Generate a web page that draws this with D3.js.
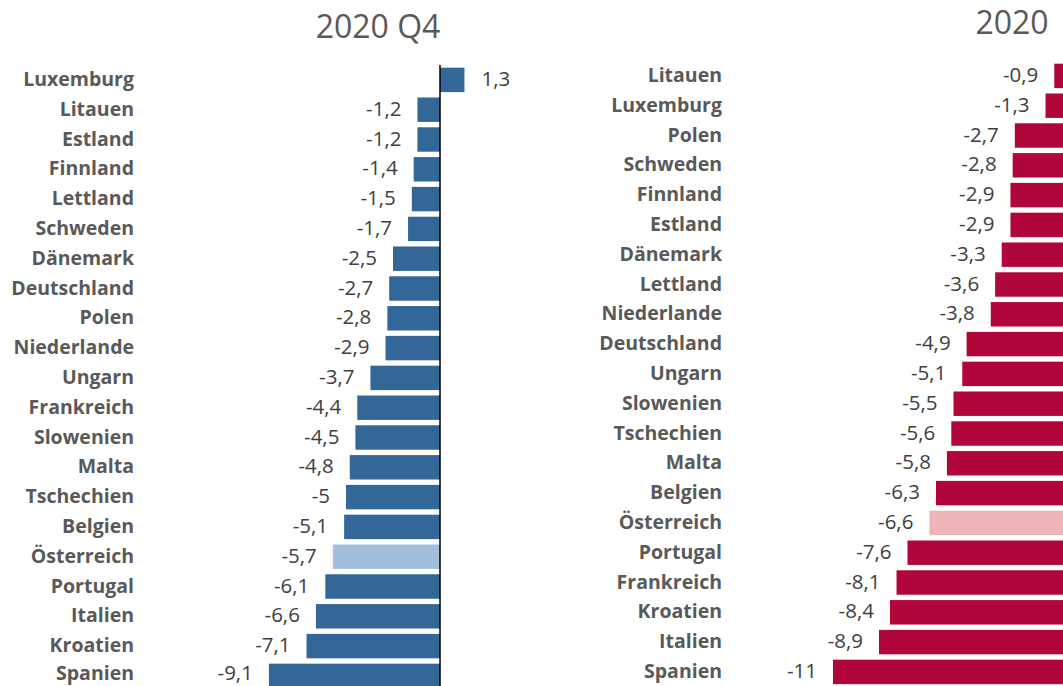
<!DOCTYPE html>
<html>
<head>
<meta charset="utf-8">
<script src="https://cdn.jsdelivr.net/npm/d3@7"></script>
<style>
  body { margin: 0; background: #fff; }
  svg { display: block; }
</style>
</head>
<body>
<svg></svg>
<script>
// Q4 2020 values (left) and full year 2020 (right)
let leftCats = ['Luxemburg', 'Litauen', 'Estland', 'Finnland', 'Lettland', 'Schweden', 'Dänemark',
  'Deutschland', 'Polen', 'Niederlande', 'Ungarn', 'Frankreich', 'Slowenien', 'Malta',
  'Tschechien', 'Belgien', 'Österreich', 'Portugal', 'Italien', 'Kroatien', 'Spanien']
let leftVals = [1.3, -1.2, -1.2, -1.4, -1.5, -1.7, -2.5, -2.7, -2.8, -2.9, -3.7, -4.4, -4.5, -4.8,
  -5, -5.1, -5.7, -6.1, -6.6, -7.1, -9.1]

let rightCats = ['Litauen', 'Luxemburg', 'Polen', 'Schweden', 'Finnland', 'Estland', 'Dänemark',
  'Lettland', 'Niederlande', 'Deutschland', 'Ungarn', 'Slowenien', 'Tschechien', 'Malta',
  'Belgien', 'Österreich', 'Portugal', 'Frankreich', 'Kroatien', 'Italien', 'Spanien']
let rightVals = [-0.9, -1.3, -2.7, -2.8, -2.9, -2.9, -3.3, -3.6, -3.8, -4.9, -5.1, -5.5, -5.6, -5.8,
  -6.3, -6.6, -7.6, -8.1, -8.4, -8.9, -11]

let titles = ['2020 Q4', '2020']

let svg = d3.select('svg').attr('width', 1063).attr('height', 686)

let fmt = d3.formatLocale({decimal: ',', thousands: '.', grouping: [3], currency: ['', '€'], minus: '-'})
  .format('.1~f')

function panel(cats, vals, opt) {
  let x = d3.scaleLinear().domain(opt.domain).range(opt.range)
  let y = d3.scaleBand().domain(cats).range(opt.yRange)
    .paddingInner(0.18).paddingOuter(0.09)
  let data = cats.map((c, i) => ({c: c, v: vals[i]}))
  let g = svg.append('g')
  // text baseline, kept inside the picture so descenders are not cut
  let ty = d => Math.min(y(d.c) + y.bandwidth() / 2 + 6, 680)

  g.selectAll('rect')
    .data(data)
    .enter().append('rect')
    .attr('x', d => x(Math.min(0, d.v)))
    .attr('y', d => y(d.c))
    .attr('width', d => Math.abs(x(d.v) - x(0)))
    .attr('height', y.bandwidth())
    .attr('fill', d => d.c == 'Österreich' ? opt.light : opt.color)

  // value labels outside the bar end
  g.selectAll('text.val')
    .data(data)
    .enter().append('text')
    .attr('class', 'val')
    .attr('x', d => d.v < 0 ? x(d.v) - 16 : x(d.v) + 17)
    .attr('y', ty)
    .attr('text-anchor', d => d.v < 0 ? 'end' : 'start')
    .attr('font-family', 'Open Sans')
    .attr('font-size', 20.5)
    .attr('fill', '#404040')
    .text(d => fmt(d.v))

  // category names
  g.selectAll('text.cat')
    .data(data)
    .enter().append('text')
    .attr('class', 'cat')
    .attr('x', opt.labelX)
    .attr('y', ty)
    .attr('text-anchor', 'end')
    .attr('font-family', 'Open Sans')
    .attr('font-weight', 'bold')
    .attr('font-size', 19.5)
    .attr('fill', '#595959')
    .text(d => d.c)

  g.append('text')
    .attr('x', opt.titleX)
    .attr('y', opt.titleY)
    .attr('text-anchor', 'middle')
    .attr('font-family', 'Open Sans')
    .attr('font-size', 32)
    .attr('fill', '#595959')
    .text(opt.title)

  if (opt.axis) {
    g.append('line')
      .attr('x1', x(0)).attr('x2', x(0))
      .attr('y1', opt.yRange[0]).attr('y2', 686)
      .attr('stroke', 'black')
      .attr('stroke-width', 1.5)
  }
}

panel(leftCats, leftVals, {
  domain: [-10, 2], range: [252, 477.6], yRange: [65, 690.8],
  color: '#326797', light: '#A3BFDE', labelX: 134,
  title: titles[0], titleX: 378, titleY: 38, axis: true
})

panel(rightCats, rightVals, {
  domain: [-11, 0], range: [833, 1074], yRange: [61, 686.8],
  color: '#B0063A', light: '#F0B5B9', labelX: 722,
  title: titles[1], titleX: 1012, titleY: 34, axis: false
})
</script>
</body>
</html>
